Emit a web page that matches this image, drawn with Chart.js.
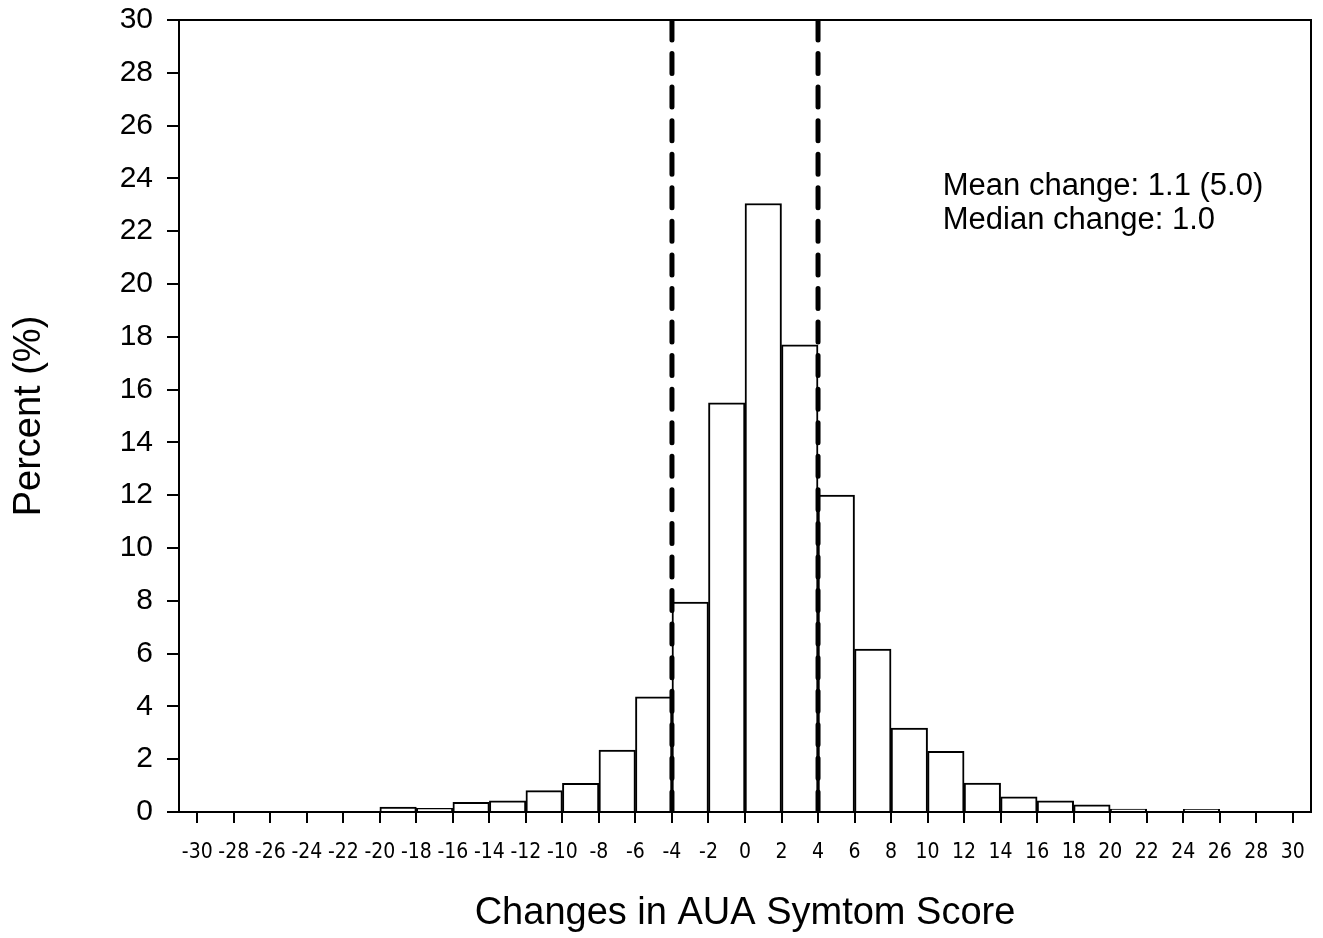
<!DOCTYPE html>
<html>
<head>
<meta charset="utf-8">
<script src="https://cdn.jsdelivr.net/npm/chart.js@4/dist/chart.umd.min.js"></script>
<style>
  html, body { margin: 0; padding: 0; background: #fff; }
  #wrap { width: 1323px; height: 938px; }
</style>
</head>
<body>
<div id="wrap"><canvas id="histChart" width="1323" height="938"></canvas></div>
<script>
// bin centres of the 2-point wide bins, -30..30
var binCentres = [-29, -27, -25, -23, -21, -19, -17, -15, -13, -11, -9, -7, -5, -3, -1,
                  1, 3, 5, 7, 9, 11, 13, 15, 17, 19, 21, 23, 25, 27, 29];
var percents = [0, 0, 0, 0, 0, 0.19, 0.14, 0.37, 0.42, 0.81, 1.09, 2.35, 4.36, 7.95, 15.5,
                23.05, 17.7, 12.0, 6.17, 3.18, 2.3, 1.1, 0.57, 0.42, 0.27, 0.11, 0, 0.1, 0, 0];
var xTicks = [-30, -28, -26, -24, -22, -20, -18, -16, -14, -12, -10, -8, -6, -4, -2, 0,
              2, 4, 6, 8, 10, 12, 14, 16, 18, 20, 22, 24, 26, 28, 30];
var cutoffs = [-4, 4];
var notes = ['Mean change: 1.1 (5.0)', 'Median change: 1.0'];

var arial = "Arial, 'Liberation Sans', sans-serif";

var frameAndNotes = {
  id: 'frameAndNotes',
  afterDraw: function(chart) {
    var c = chart.ctx, a = chart.chartArea;
    var xs = chart.scales.x, ys = chart.scales.y;
    c.save();
    c.strokeStyle = '#000';
    c.lineWidth = 2;
    c.strokeRect(a.left, a.top, a.right - a.left, a.bottom - a.top);
    c.fillStyle = '#000';
    c.font = '31px ' + arial;
    c.textAlign = 'left';
    c.textBaseline = 'middle';
    var x0 = xs.getPixelForValue(10.83);
    c.fillText(notes[0], x0, ys.getPixelForValue(23.68));
    c.fillText(notes[1], x0, ys.getPixelForValue(22.4));
    c.restore();
  }
};

var datasets = cutoffs.map(function(v) {
  return {
    type: 'line',
    data: [{x: v, y: 30}, {x: v, y: 0}],
    borderColor: '#000',
    borderWidth: 5,
    borderDash: [20, 13.56],
    borderCapStyle: 'round',
    pointRadius: 0,
    order: 0
  };
});
datasets.push({
  type: 'bar',
  data: binCentres.map(function(x, i) { return {x: x, y: percents[i]}; }),
  backgroundColor: '#fff',
  borderColor: '#000',
  borderWidth: 2,
  barPercentage: 1,
  categoryPercentage: 1,
  order: 1
});

new Chart(document.getElementById('histChart').getContext('2d'), {
  type: 'bar',
  data: { datasets: datasets },
  options: {
    responsive: false,
    animation: false,
    layout: { padding: { top: 20, right: 12, left: 0, bottom: 0 } },
    plugins: { legend: { display: false }, tooltip: { enabled: false } },
    scales: {
      x: {
        type: 'linear',
        min: -31,
        max: 31,
        offset: false,
        afterBuildTicks: function(s) {
          s.ticks = xTicks.map(function(v) { return {value: v}; });
        },
        afterFit: function(s) { s.height = 126; s.paddingLeft = 0; s.paddingRight = 0; },
        ticks: {
          autoSkip: false,
          maxRotation: 0,
          color: '#000',
          padding: 17,
          font: { family: "'DejaVu Sans Condensed', 'Liberation Sans', sans-serif", size: 21 }
        },
        grid: { offset: false, drawOnChartArea: false, tickLength: 11, color: '#000', lineWidth: 2 },
        border: { color: '#000', width: 2 },
        title: {
          display: true,
          text: 'Changes in AUA Symtom Score',
          color: '#000',
          font: { family: arial, size: 38 },
          padding: { top: 0, bottom: 2 }
        }
      },
      y: {
        min: 0,
        max: 30,
        afterFit: function(s) { s.width = 179; s.paddingTop = 0; s.paddingBottom = 0; },
        ticks: {
          stepSize: 2,
          color: '#000',
          padding: 14,
          font: { family: arial, size: 30 }
        },
        grid: { drawOnChartArea: false, tickLength: 12, color: '#000', lineWidth: 2 },
        border: { color: '#000', width: 2 },
        title: {
          display: true,
          text: 'Percent (%)',
          color: '#000',
          font: { family: arial, size: 38 },
          padding: { top: 7, bottom: 0 }
        }
      }
    }
  },
  plugins: [frameAndNotes]
});
</script>
</body>
</html>
